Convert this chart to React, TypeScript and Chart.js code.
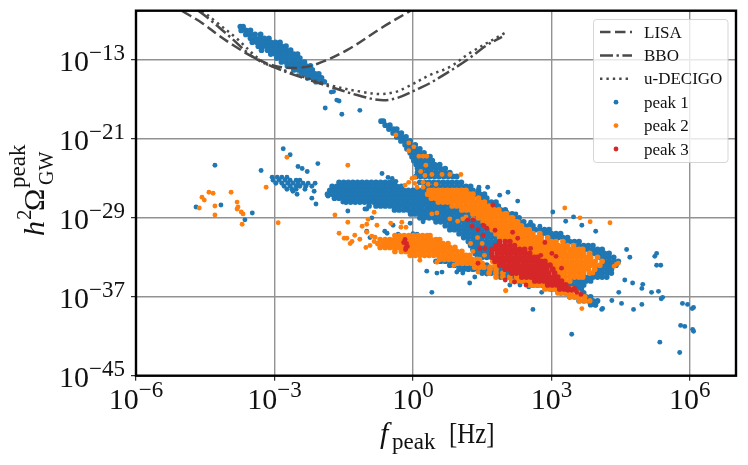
import React, { useEffect, useRef } from "react";
import { Chart, registerables } from "chart.js";

Chart.register(...registerables);

const xTickExponents = [-6, -3, 0, 3, 6];
const yTickExponents = [-45, -37, -29, -21, -13];
const xRange = [-6, 7];
const yRange = [-45, -8];

type Pair = [number, number];
type Row = [number, number[]];

// curves: [log10 f, log10 h2Omega]
const lisaCurve: Pair[] = [[-5, -8.03], [-4.57, -9.24], [-4.22, -10.46], [-3.9, -11.48], [-3.46, -12.7], [-2.99, -13.6], [-2.51, -13.8], [-2.08, -13.4], [-1.43, -12], [-0.65, -9.65], [-0.06, -8.03]];
const bboCurve: Pair[] = [[-4.65, -8], [-4.39, -8.94], [-3.96, -10.66], [-3.46, -12.7], [-3.03, -13.7], [-2.51, -14.6], [-1.8, -15.7], [-1.21, -16.55], [-0.71, -17.06], [-0.35, -16.86], [0.15, -15.84], [0.37, -15.34], [0.74, -14.3], [1.17, -13], [1.6, -11.5], [1.93, -10.66]];
const decigoCurve: Pair[] = [[-4.57, -8], [-4.29, -9.04], [-3.83, -10.77], [-3.25, -13.2], [-2.81, -14], [-1.8, -15.54], [-1.08, -16.25], [-0.71, -16.45], [-0.39, -16.25], [-0.13, -15.74], [0.37, -14.52], [0.8, -13.7], [1.23, -12.3], [1.99, -10.26]];

// peak 1: rows of [log10 h2Omega, log10 f values]
const peak1Rows: Row[] = [
  [-9.6, [-3.74, -3.68]],
  [-10, [-3.72, -3.62, -3.52]],
  [-10.4, [-3.62, -3.52, -3.42, -3.3]],
  [-10.8, [-3.52, -3.42, -3.32, -3.22, -3.12]],
  [-11.2, [-3.48, -3.38, -3.28, -3.18, -3.08, -2.98, -2.88]],
  [-11.6, [-3.35, -3.25, -3.15, -3.05, -2.95, -2.85, -2.75]],
  [-12, [-3.28, -3.15, -3.05, -2.95, -2.85, -2.75, -2.65]],
  [-12.4, [-3.08, -2.98, -2.88, -2.78, -2.68, -2.58, -2.5]],
  [-12.8, [-2.95, -2.85, -2.75, -2.65, -2.55, -2.45]],
  [-13.2, [-2.85, -2.75, -2.65, -2.55, -2.45, -2.35]],
  [-13.6, [-2.72, -2.62, -2.52, -2.42, -2.32, -2.22]],
  [-14, [-2.58, -2.48, -2.38, -2.28, -2.18]],
  [-14.4, [-2.42, -2.32, -2.22, -2.12, -2.04]],
  [-14.8, [-2.28, -2.18, -2.08, -1.98]],
  [-15.2, [-2.1, -2, -1.92]],
  [-19.2, [-0.69, -0.64]],
  [-19.6, [-0.6, -0.5]],
  [-20, [-0.52, -0.42, -0.35]],
  [-20.4, [-0.43, -0.33, -0.25]],
  [-20.8, [-0.35, -0.25, -0.15]],
  [-21.2, [-0.26, -0.16, -0.06]],
  [-21.6, [-0.17, -0.07, 0.05]],
  [-22, [-0.13, -0.03, 0.07, 0.15]],
  [-22.4, [-0.06, 0.04, 0.14, 0.24]],
  [-22.8, [-0.02, 0.08, 0.18, 0.28, 0.37]],
  [-23.2, [0.02, 0.12, 0.22, 0.32, 0.42]],
  [-23.6, [0.07, 0.17, 0.27, 0.37, 0.47, 0.58]],
  [-24, [0.1, 0.2, 0.3, 0.4, 0.5, 0.6, 0.7]],
  [-24.4, [0.1, 0.2, 0.3, 0.4, 0.5, 0.6, 0.7, 0.8]],
  [-24.8, [0.07, 0.17, 0.27, 0.37, 0.47, 0.57, 0.67, 0.77, 0.87, 0.95]],
  [-25.4, [-1.6, -1.5, -1.4, -1.3, -1.2, -1.1, -1, -0.9, -0.8, -0.7, -0.6, -0.5, -0.4, 0.15, 0.25, 0.35, 0.45, 0.55, 0.65, 0.75, 0.85, 0.95, 1.05]],
  [-25.8, [-1.75, -1.65, -1.55, -1.45, -1.35, -1.25, -1.15, -1.05, -0.95, -0.85, -0.75, -0.65, -0.55, -0.45, -0.35, -0.25, 0.25, 0.35, 0.45, 0.55, 0.65, 0.75, 0.85, 0.95, 1.05, 1.15, 1.25]],
  [-26.2, [-1.8, -1.7, -1.6, -1.5, -1.4, -1.3, -1.2, -1.1, -1, -0.9, -0.8, -0.7, -0.6, -0.5, -0.4, -0.3, -0.2, -0.1, 0, 0.1, 0.2, 0.3, 1.2, 1.3, 1.42]],
  [-26.6, [-1.85, -1.75, -1.65, -1.55, -1.45, -1.35, -1.25, -1.15, -1.05, -0.95, -0.85, -0.75, -0.65, -0.55, -0.45, -0.35, -0.25, -0.15, -0.05, 0.05, 0.15, 0.25, 0.35, 1.35, 1.45, 1.55]],
  [-27, [-1.7, -1.6, -1.5, -1.4, -1.3, -1.2, -1.1, -1, -0.9, -0.8, -0.7, -0.6, -0.5, -0.4, -0.3, -0.2, -0.1, 0, 0.1, 0.2, 0.3, 0.4, 1.5, 1.6]],
  [-27.4, [-1.45, -1.35, -1.25, -1.15, -1.05, -0.95, -0.85, -0.75, -0.65, -0.55, -0.45, -0.35, -0.25, -0.15, -0.05, 0.05, 0.15, 0.25, 0.35, 0.45, 0.55, 1.6, 1.7, 1.8]],
  [-27.8, [-0.95, -0.8, -0.7, -0.6, -0.5, -0.4, -0.3, -0.2, -0.1, 0, 0.1, 0.2, 0.3, 0.4, 0.5, 0.6, 0.7, 0.8, 1.75, 1.85]],
  [-28.2, [-0.4, -0.3, -0.2, -0.1, 0, 0.1, 0.2, 0.3, 0.4, 0.5, 0.6, 0.7, 0.8, 0.9, 1, 1.9, 2]],
  [-28.6, [-0.05, 0.05, 0.15, 0.25, 0.35, 0.45, 0.55, 0.65, 0.75, 0.85, 0.95, 1.05, 1.15, 1.25, 2.05, 2.15]],
  [-29, [0.15, 0.25, 0.35, 0.45, 0.55, 0.65, 0.75, 0.85, 0.95, 1.05, 1.15, 1.25, 1.35, 2.2, 2.3]],
  [-29.4, [0.5, 0.6, 0.7, 0.8, 0.9, 1, 1.1, 1.2, 1.3, 1.4, 1.5, 2.3, 2.4]],
  [-29.8, [0.7, 0.8, 0.9, 1, 1.1, 1.2, 1.3, 1.4, 1.5, 1.6, 2.4, 2.5, 2.6]],
  [-30.2, [0.8, 0.9, 1, 1.1, 1.2, 1.3, 1.4, 1.5, 1.6, 1.7, 2.55, 2.65, 2.75, 2.85, 2.95]],
  [-30.6, [1, 1.1, 1.2, 1.3, 1.4, 1.5, 1.6, 1.7, 1.8, 2.8, 2.9, 3, 3.1, 3.2]],
  [-31, [1.1, 1.2, 1.3, 1.4, 1.5, 1.6, 1.7, 1.8, 1.9, 2.95, 3.05, 3.15, 3.25, 3.35]],
  [-31.4, [1.2, 1.3, 1.4, 1.5, 1.6, 1.7, 1.8, 3.3, 3.4, 3.5, 3.6]],
  [-31.8, [1.25, 1.35, 1.45, 1.55, 1.65, 1.75, 3.5, 3.6, 3.7, 3.8, 3.9]],
  [-32.2, [1.3, 1.4, 1.5, 1.6, 1.7, 3.7, 3.8, 3.9, 4, 4.1]],
  [-32.6, [1.35, 1.45, 1.55, 1.65, 3.85, 3.95, 4.05, 4.15, 4.25]],
  [-33, [1.4, 1.5, 1.6, 1.7, 4.05, 4.15, 4.25, 4.35]],
  [-33.4, [0.5, 0.6, 0.7, 0.8, 0.9, 1, 1.1, 1.2, 4.15, 4.25, 4.35, 4.45]],
  [-33.8, [0.8, 0.9, 1, 1.1, 1.2, 1.3, 1.4, 1.5, 1.6, 4.1, 4.2, 4.3, 4.4]],
  [-34.2, [1, 1.1, 1.2, 1.3, 1.4, 1.5, 1.6, 1.7, 1.8, 1.9, 2, 4, 4.1, 4.2, 4.3]],
  [-34.6, [1.5, 1.6, 1.7, 1.8, 1.9, 2, 2.1, 2.2, 2.3, 2.4, 2.5, 2.6, 3.9, 4, 4.1, 4.2, 4.3]],
  [-35, [1.9, 2, 2.1, 2.2, 2.3, 2.4, 2.5, 2.6, 2.7, 2.8, 2.9, 3.7, 3.8, 3.9, 4, 4.1, 4.2]],
  [-35.4, [2.3, 2.4, 2.5, 2.6, 2.7, 2.8, 2.9, 3, 3.1, 3.2, 3.45, 3.55, 3.65, 3.75, 3.85]],
  [-35.8, [2.6, 2.7, 2.8, 2.9, 3, 3.1, 3.2, 3.3, 3.35, 3.45, 3.55, 3.65, 3.7]],
  [-36.2, [3, 3.1, 3.2, 3.3, 3.45, 3.55, 3.65]],
  [-36.6, [3.2, 3.3, 3.6, 3.7]],
  [-37, [3.4, 3.5, 3.75, 3.85]],
  [-37.4, [3.6, 3.7, 3.8, 3.9, 4]],
  [-37.8, [3.85, 3.95]],
];

const peak1Singles: Pair[] = [
  [-1.77, -16.25], [-1.72, -16.2], [-1.65, -17.06], [-1.6, -17.16], [-1.9, -17.87], [-1.54, -18.5], [-1.15, -18.1],
  [-4.29, -23.66], [-4.7, -27.9], [-4.16, -27.7], [-3.48, -28.5], [-3.64, -29.2], [-3.29, -24.2], [-2.81, -22], [-2.66, -22.6], [-2.49, -23.8], [-2.4, -24], [-2.29, -24.3], [-2.06, -23.5],
  [-3.05, -24.88], [-2.94, -24.88], [-2.84, -24.88], [-2.73, -24.88], [-3.03, -25.18], [-2.9, -25.18], [-2.77, -25.18], [-2.66, -25.18], [-2.53, -25.18], [-2.45, -25.18],
  [-2.97, -25.49], [-2.84, -25.49], [-2.71, -25.49], [-2.6, -25.49], [-2.49, -25.49], [-2.38, -25.49], [-2.27, -25.49], [-2.12, -25.49],
  [-2.79, -25.8], [-2.66, -25.8], [-2.53, -25.8], [-2.45, -25.8], [-2.32, -25.8], [-2.19, -25.8], [-2.73, -26.1], [-2.62, -26.1], [-2.53, -26.1], [-2.34, -26.1], [-2.6, -26.3], [-2.14, -26.3], [-2.51, -26.6], [-2.19, -27], [-2.1, -27.6],
  [-1.84, -26.8], [-1.62, -26.9], [-1.52, -27.4], [-1.41, -28.3], [-1.04, -28.1], [-1, -28.1], [-0.89, -29], [-1, -30.36], [-0.61, -30.36], [-0.56, -30.56], [-0.93, -31], [-0.43, -29.75], [-0.06, -29.55], [-0.32, -30.66], [-0.67, -24.5], [-0.54, -24.9], [-0.45, -25], [-0.37, -25.3], [0, -30.6], [0.09, -30.66], [0.22, -29.4],
  [0.3, -34.4], [0.52, -34.6], [0.63, -34.5], [0.95, -34.5], [1.08, -34.6], [1.23, -35.6], [0.41, -36.55], [1.34, -35], [1.6, -34.7], [1.84, -34.8], [2.1, -35.8], [2.32, -35.8], [2.51, -36], [2.79, -36.55],
  [1.88, -26.7], [2.06, -26.4], [2.27, -27.3], [1.62, -25.9], [1.43, -25.9], [2.03, -28.4], [2.23, -28.6], [2.55, -29.45], [2.75, -29.85], [3.03, -28.4], [3.31, -29.35], [3.48, -28.9], [3.66, -29.75], [3.96, -30.36],
  [4.63, -32.2], [4.7, -33], [5.24, -32.9], [5.28, -32.6], [5.28, -33.8], [5.37, -33.8], [4.59, -35.3], [4.76, -35.6], [4.46, -36.55], [4.98, -35.74], [4.96, -36.15], [5.17, -36.55], [5.32, -36.45], [5.41, -37.06], [5.38, -37.2],
  [4.52, -37.67], [4.31, -37.37], [4.96, -37.77], [4.78, -38.28], [4.09, -38.28], [4.11, -38.18], [3.96, -37.87], [3.98, -37.57], [2.6, -38.28], [3.44, -40.8], [5.35, -41.6], [5.78, -42.65], [5.84, -37.67], [5.95, -37.77], [6.08, -38.08], [6.05, -38.2], [5.8, -39.9], [5.89, -40], [6.06, -40.3], [6.08, -40.5],
];

// peak 2
const peak2Rows: Row[] = [
  [-26.2, [0.35, 0.45, 0.55, 0.65, 0.75, 0.85, 0.95, 1.05, 1.15]],
  [-26.6, [0.32, 0.42, 0.52, 0.62, 0.72, 0.82, 0.92, 1.02, 1.12, 1.22, 1.3]],
  [-27, [0.4, 0.5, 0.6, 0.7, 0.8, 0.9, 1, 1.1, 1.2, 1.3, 1.42]],
  [-27.4, [0.55, 0.65, 0.75, 0.85, 0.95, 1.05, 1.15, 1.25, 1.35, 1.45, 1.55]],
  [-27.8, [0.85, 0.95, 1.05, 1.15, 1.25, 1.35, 1.45, 1.55, 1.65]],
  [-28.2, [1.06, 1.16, 1.26, 1.36, 1.46, 1.56, 1.66, 1.76, 1.86]],
  [-28.6, [1.3, 1.4, 1.5, 1.6, 1.7, 1.8, 1.9, 2, 2.03]],
  [-29, [1.42, 1.52, 1.62, 1.72, 1.82, 1.92, 2.02, 2.12, 2.16]],
  [-29.4, [1.52, 1.62, 1.72, 1.82, 1.92, 2.02, 2.12, 2.22, 2.27]],
  [-29.8, [1.65, 1.75, 1.85, 1.95, 2.05, 2.15, 2.25, 2.35]],
  [-30.2, [1.72, 1.82, 1.92, 2.02, 2.12, 2.22, 2.32, 2.42, 2.52]],
  [-30.6, [1.8, 1.9, 2, 2.1, 2.2, 2.3, 2.4, 2.5, 2.6, 2.75]],
  [-31, [1.88, 1.98, 2.08, 2.18, 2.28, 2.38, 2.48, 2.58, 2.68, 2.78, 2.92]],
  [-31.4, [2.1, 2.2, 2.3, 2.4, 2.5, 2.6, 2.7, 2.8, 2.9, 3, 3.1, 3.25]],
  [-31.8, [2.25, 2.35, 2.45, 2.55, 2.65, 2.75, 2.85, 2.95, 3.05, 3.15, 3.25, 3.35, 3.48]],
  [-32.2, [2.4, 2.5, 2.6, 2.7, 2.8, 2.9, 3, 3.1, 3.2, 3.3, 3.4, 3.5, 3.6, 3.68]],
  [-32.6, [2.5, 2.6, 2.7, 2.8, 2.9, 3, 3.1, 3.2, 3.3, 3.4, 3.5, 3.6, 3.7, 3.83]],
  [-33, [2.65, 2.75, 2.85, 2.95, 3.05, 3.15, 3.25, 3.35, 3.45, 3.55, 3.65, 3.75, 3.85, 4]],
  [-33.4, [1.73, 2.85, 2.95, 3.05, 3.15, 3.25, 3.35, 3.45, 3.55, 3.65, 3.75, 3.85, 3.95, 4.1]],
  [-33.8, [1.78, 2.95, 3.05, 3.15, 3.25, 3.35, 3.45, 3.55, 3.65, 3.75, 3.85, 3.95, 4.05]],
  [-34.2, [1.67, 1.8, 3, 3.1, 3.2, 3.3, 3.4, 3.5, 3.6, 3.7, 3.8, 3.94]],
  [-34.6, [1.65, 1.8, 1.95, 3, 3.1, 3.2, 3.3, 3.4, 3.5, 3.6, 3.7, 3.83]],
  [-35, [1.8, 1.95, 2.1, 2.25, 3.1, 3.2, 3.3, 3.4, 3.5, 3.6, 3.68]],
  [-35.4, [2.14, 2.25, 2.35, 2.45, 2.55, 2.65, 3.2, 3.3, 3.4]],
  [-35.8, [2.53, 2.63, 2.73, 2.83, 2.93, 3.25, 3.3]],
  [-36.2, [2.86, 2.96, 3.06, 3.16, 3.26, 3.36, 3.44]],
  [-36.6, [3.14, 3.24, 3.34, 3.44, 3.57]],
  [-37, [3.4, 3.5, 3.6, 3.72]],
  [-37.4, [3.61, 3.72, 3.83]],
  [-30.8, [-0.39, -0.29, -0.19, -0.09, 0.01, 0.11, 0.21, 0.31, 0.37]],
  [-31.2, [-0.71, -0.6, -0.5, -0.4, -0.3, -0.2, -0.1, 0, 0.1, 0.2, 0.3, 0.4, 0.5, 0.58]],
  [-31.6, [-0.76, -0.65, -0.55, -0.45, -0.35, -0.25, -0.15, -0.05, 0.05, 0.15, 0.25, 0.35, 0.45, 0.55, 0.65, 0.76]],
  [-32, [-0.71, -0.6, -0.5, -0.4, -0.3, -0.2, -0.1, 0, 0.1, 0.2, 0.3, 0.4, 0.5, 0.6, 0.7, 0.8, 0.91]],
  [-32.4, [-0.39, -0.25, -0.15, -0.05, 0.05, 0.15, 0.25, 0.35, 0.45, 0.55, 0.65, 0.75, 0.85, 0.95, 1.06]],
  [-32.8, [-0.06, 0.05, 0.15, 0.25, 0.35, 0.45, 0.55, 0.65, 0.75, 0.85, 0.95, 1.05, 1.15, 1.23]],
  [-33.2, [0.58, 0.68, 0.78, 0.88, 0.98, 1.08, 1.18, 1.28, 1.39]],
  [-33.6, [0.97, 1.07, 1.17, 1.27, 1.37, 1.5]],
  [-34, [1.34, 1.44, 1.54, 1.67]],
];

const peak2Singles: Pair[] = [
  [-4.57, -26.9], [-4.52, -27.2], [-4.42, -26.4], [-4.33, -26.5], [-4.63, -28], [-4.29, -27.8], [-4.29, -28.7], [-3.94, -26.4], [-3.81, -27.4], [-3.79, -27.9], [-3.81, -28.1], [-3.72, -28.4], [-3.68, -28.6], [-3.7, -29.65], [-3.18, -25.9], [-2.92, -29.5], [-2.73, -22.85], [-1.41, -23.66], [-1.69, -28.7], [-1.41, -29.45], [-1.6, -30.56],
  [-1.43, -31.07], [-1.36, -31.6], [-1.26, -30.77], [-1.15, -31.17], [-1.49, -31.07], [-1.32, -31.4], [-1.1, -29.85], [-1, -29.65], [-0.97, -29.14], [-0.84, -28.43], [-0.78, -29.75], [-1, -30.46], [-0.89, -30.87], [-0.82, -30.97], [-0.84, -31.4], [-1.02, -32], [-0.93, -31.8], [-0.48, -29.55], [-0.24, -29.45], [-0.15, -29.95], [-0.26, -29.95],
  [0.15, -33.3], [0.52, -33.5], [0.89, -33.8], [1.41, -34.5], [2.01, -36.35],
  [-0.37, -20.6], [-0.09, -21.4], [0.02, -21.8], [-0.09, -22.2], [0.13, -22.75], [0.22, -22.75], [0.3, -22.75], [0.28, -23.66], [0.17, -24.3], [0.26, -24.7], [-0.02, -25], [0.04, -24.9], [-0.17, -25.7], [-0.09, -25.4], [0.04, -25.5], [0.22, -25.4], [0.09, -25.9], [0.22, -25.9], [0.33, -25.6], [0.41, -24.6], [0.63, -24.6], [0.8, -24.6], [1.04, -24.6], [0.5, -25.6],
  [0.41, -28.6], [0.52, -28.5], [0.8, -29.1], [0.97, -29.35], [1.08, -29.1], [1.15, -28.9], [1.3, -29.1], [1.52, -29.1],
  [1.4, -31], [1.5, -31.6], [1.3, -32.4], [1.55, -32.8], [1.25, -31.6], [1.45, -33.2],
  [3.29, -28], [3.62, -29], [3.84, -29.4], [4.27, -29.5], [4.45, -33.6], [4.36, -33.9], [4.41, -33.7], [3.77, -33.2], [3.9, -34.6], [2.01, -36.4], [3.66, -38.2],
];

// peak 3
const peak3Rows: Row[] = [
  [-31.4, [1.88, 2, 2.1]],
  [-31.8, [1.8, 1.9, 2, 2.1, 2.2]],
  [-32.2, [1.71, 1.81, 1.91, 2.01, 2.11, 2.21, 2.31, 2.42]],
  [-32.6, [1.71, 1.83, 1.93, 2.03, 2.13, 2.23, 2.33, 2.43, 2.53]],
  [-33, [1.73, 1.83, 1.93, 2.03, 2.13, 2.23, 2.33, 2.43, 2.53, 2.63, 2.7]],
  [-33.4, [1.78, 1.88, 1.98, 2.08, 2.18, 2.28, 2.38, 2.48, 2.58, 2.68, 2.78, 2.86]],
  [-33.8, [1.88, 1.98, 2.08, 2.18, 2.28, 2.38, 2.48, 2.58, 2.68, 2.78, 2.88, 2.97]],
  [-34.2, [2, 2.1, 2.2, 2.3, 2.4, 2.5, 2.6, 2.7, 2.8, 2.9, 3.03]],
  [-34.6, [2.14, 2.24, 2.34, 2.44, 2.54, 2.64, 2.74, 2.84, 2.94, 3.07]],
  [-35, [2.36, 2.46, 2.56, 2.66, 2.76, 2.86, 2.96, 3.06, 3.14]],
  [-35.4, [2.64, 2.74, 2.84, 2.94, 3.04, 3.14, 3.22]],
  [-35.8, [2.92, 3.02, 3.12, 3.22, 3.31]],
  [-36.2, [3.18, 3.28, 3.38, 3.5]],
];

const peak3Singles: Pair[] = [
  [-0.17, -31.2], [-0.14, -31.6], [-0.15, -32], [-0.12, -31.9], [-0.2, -31.5], [-0.16, -32.2],
  [1.73, -27.7], [1.19, -29.2], [1.3, -29.2], [1.28, -29.85], [1.41, -30.2], [1.6, -30.05], [1.52, -29.75], [1.78, -30.26], [1.52, -30.77], [1.45, -32.1], [1.56, -32.1], [1.41, -33.6],
  [2.16, -30.46], [2.27, -31.07], [2.55, -32.1], [2.77, -32.8], [2.86, -31.5], [3.01, -32.6], [3.1, -32.9], [3.22, -34.1], [3.44, -36.35], [3.64, -36.76], [3.55, -36.55], [3.36, -36.35], [2, -35.3], [2.2, -35.5], [2.45, -35.8],
];

const legendLabels = ["LISA", "BBO", "u-DECIGO", "peak 1", "peak 2", "peak 3"];
const peakColors = ["#1f77b4", "#ff7f0e", "#d62728"];
const curveDashes = [[10.5, 4.5], [13, 3.5, 2.4, 3.5], [2.4, 4]];
const curveColor = "#4a4a4a";
const SERIF = '"Liberation Serif", serif';

const fromPairs = (pairs: Pair[]) => pairs.map(([x, y]) => ({ x: Math.pow(10, x), y: Math.pow(10, y) }));
const fromRows = (rows: Row[]) => rows.flatMap(([y, xs]) => xs.map((x) => ({ x: Math.pow(10, x), y: Math.pow(10, y) })));

const curveSet = (label: string, pairs: Pair[], dash: number[]) => ({
  type: "scatter" as const, label, data: fromPairs(pairs), showLine: true, tension: 0.35,
  borderColor: curveColor, borderWidth: 2.5, borderDash: dash, pointRadius: 0, order: 0, fill: false,
});
const peakSet = (label: string, rows: Row[], singles: Pair[], color: string, order: number) => {
  const dense = fromRows(rows);
  const sparse = fromPairs(singles);
  return {
    type: "scatter" as const, label, data: [...dense, ...sparse],
    backgroundColor: color, borderColor: color, borderWidth: 0,
    pointRadius: [...dense.map(() => 2.85), ...sparse.map(() => 2.45)], order,
  };
};

const text = (ctx: CanvasRenderingContext2D, s: string, x: number, y: number, size: number, italic = false) => {
  ctx.font = `${italic ? "italic " : ""}${size}px ${SERIF}`;
  ctx.fillText(s, x, y);
};

const overlay = {
  id: "overlay",
  afterDraw(chart: any) {
    const { ctx, chartArea: a, scales } = chart;
    ctx.save();
    // spines
    ctx.strokeStyle = "#000";
    ctx.lineWidth = 2.4;
    ctx.strokeRect(a.left, a.top, a.right - a.left, a.bottom - a.top);
    ctx.fillStyle = "#111";
    ctx.textBaseline = "alphabetic";
    ctx.textAlign = "left";
    const expText = (e: number) => (e < 0 ? "\u2212" + Math.abs(e) : String(e));
    // x tick labels
    xTickExponents.forEach((e) => {
      const px = scales.x.getPixelForValue(Math.pow(10, e));
      const sup = expText(e);
      ctx.font = `23px ${SERIF}`;
      const w2 = ctx.measureText(sup).width;
      ctx.font = `30px ${SERIF}`;
      const w1 = ctx.measureText("10").width;
      const x0 = px - (w1 + w2) / 2;
      text(ctx, "10", x0, a.bottom + 33, 30);
      text(ctx, sup, x0 + w1, a.bottom + 21, 23);
    });
    // y tick labels
    yTickExponents.forEach((e) => {
      const py = scales.y.getPixelForValue(Math.pow(10, e));
      const sup = expText(e);
      ctx.font = `23px ${SERIF}`;
      const w2 = ctx.measureText(sup).width;
      ctx.font = `30px ${SERIF}`;
      const w1 = ctx.measureText("10").width;
      const x0 = 125 - w1 - w2;
      text(ctx, "10", x0, py + 11, 30);
      text(ctx, sup, x0 + w1, py, 23);
    });
    // x axis title
    text(ctx, "f", 380, 443, 30, true);
    text(ctx, "peak", 392, 449, 23);
    ctx.save();
    ctx.translate(449, 443);
    ctx.scale(0.83, 1);
    text(ctx, "[Hz]", 0, 0, 30);
    ctx.restore();
    // y axis title
    ctx.save();
    ctx.translate(44, 238);
    ctx.rotate(-Math.PI / 2);
    text(ctx, "h", 2, 0, 30, true);
    text(ctx, "2", 18, -13, 21);
    text(ctx, "\u03A9", 27, 0, 30);
    text(ctx, "peak", 50, -19, 23);
    text(ctx, "GW", 53, 9, 20);
    ctx.restore();
    // legend
    ctx.beginPath();
    ctx.roundRect(593.5, 19.5, 134.5, 143, 3);
    ctx.fillStyle = "rgba(255,255,255,0.8)";
    ctx.fill();
    ctx.strokeStyle = "rgba(204,204,204,0.8)";
    ctx.lineWidth = 1;
    ctx.stroke();
    legendLabels.forEach((label, i) => {
      const y = 32 + i * 23.4;
      if (i < 3) {
        ctx.beginPath();
        ctx.setLineDash(curveDashes[i]);
        ctx.strokeStyle = curveColor;
        ctx.lineWidth = 2.5;
        ctx.moveTo(600, y);
        ctx.lineTo(632, y);
        ctx.stroke();
        ctx.setLineDash([]);
      } else {
        ctx.beginPath();
        ctx.fillStyle = peakColors[i - 3];
        ctx.arc(616, y, 2.4, 0, Math.PI * 2);
        ctx.fill();
      }
      ctx.fillStyle = "#111";
      text(ctx, label, 644, y + 5.5, 17);
    });
    ctx.restore();
  },
};

export default function App() {
  const ref = useRef<HTMLCanvasElement>(null);
  useEffect(() => {
    const chart = new Chart(ref.current as HTMLCanvasElement, {
      type: "scatter",
      data: {
        datasets: [
          curveSet(legendLabels[0], lisaCurve, curveDashes[0]),
          curveSet(legendLabels[1], bboCurve, curveDashes[1]),
          curveSet(legendLabels[2], decigoCurve, curveDashes[2]),
          peakSet(legendLabels[3], peak1Rows, peak1Singles, peakColors[0], 3),
          peakSet(legendLabels[4], peak2Rows, peak2Singles, peakColors[1], 2),
          peakSet(legendLabels[5], peak3Rows, peak3Singles, peakColors[2], 1),
        ] as any,
      },
      options: {
        responsive: false,
        animation: false,
        layout: { padding: { top: 10.7, right: 12, left: 0, bottom: 0 } },
        plugins: { legend: { display: false }, tooltip: { enabled: false } },
        scales: {
          x: {
            type: "logarithmic",
            min: Math.pow(10, xRange[0]),
            max: Math.pow(10, xRange[1]),
            afterBuildTicks: (s: any) => { s.ticks = xTickExponents.map((e) => ({ value: Math.pow(10, e) })); },
            afterFit: (s: any) => { s.height = 89.3; },
            ticks: { display: false },
            grid: { color: "#929292", lineWidth: 1.4, tickColor: "#000", tickWidth: 1, tickLength: 5, drawTicks: true },
            border: { display: false },
          },
          y: {
            type: "logarithmic",
            min: Math.pow(10, yRange[0]),
            max: Math.pow(10, yRange[1]),
            afterBuildTicks: (s: any) => { s.ticks = yTickExponents.map((e) => ({ value: Math.pow(10, e) })); },
            afterFit: (s: any) => { s.width = 136; },
            ticks: { display: false },
            grid: { color: "#929292", lineWidth: 1.4, tickColor: "#000", tickWidth: 1, tickLength: 5, drawTicks: true },
            border: { display: false },
          },
        },
      } as any,
      plugins: [overlay],
    });
    return () => chart.destroy();
  }, []);
  return (
    <canvas
      ref={ref}
      width={748}
      height={465}
      style={{ position: "absolute", left: 0, top: 0, width: 748, height: 465, display: "block" }}
    />
  );
}
